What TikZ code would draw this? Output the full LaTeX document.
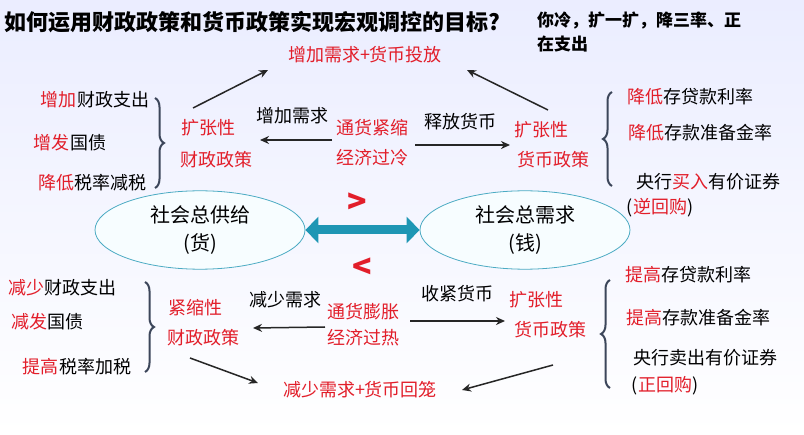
\documentclass[tikz,border=0pt]{standalone}
\usepackage{fontspec}
\setmainfont{Noto Sans CJK SC}
\usetikzlibrary{arrows.meta,decorations.pathreplacing,shapes.geometric}
\definecolor{rd}{RGB}{226,30,42}
\definecolor{br}{RGB}{60,70,90}
\definecolor{tl}{RGB}{30,150,180}
\tikzset{
 t/.style={font=\fontsize{18}{20}\selectfont, inner sep=0pt},
 r/.style={t, text=rd},
 arr/.style={-{Stealth[length=9pt,width=8pt]}, line width=1.5pt, black!85},
 brc/.style={decorate, decoration={brace, amplitude=9pt}, line width=2pt, br},
 ell/.style={draw=tl!80, ellipse, fill=white!70!cyan!10, line width=0.8pt, minimum width=210pt, minimum height=76pt, align=center, font=\fontsize{20}{28}\selectfont}
}
\begin{document}
\begin{tikzpicture}[x=1pt,y=-1pt]
\shade[top color=cyan!12!blue!8, bottom color=white] (0,0) rectangle (804,435);
\useasboundingbox (0,0) rectangle (804,435);
\node[anchor=west, inner sep=0pt, font=\bfseries\fontsize{22}{24}\selectfont] (title) at (4,22) {如何运用财政政策和货币政策实现宏观调控的目标?};
\node[anchor=north west, inner sep=0pt, align=left, font=\bfseries\fontsize{17}{24}\selectfont] (note) at (537,12) {你冷，扩一扩，降三率、正\\在支出};
\node[r] (top) at (365,55) {增加需求+货币投放};
% upper left
\node[t] (a1) at (95,100) {\textcolor{rd}{增加}财政支出};
\node[t] (a2) at (70,143) {\textcolor{rd}{增发}国债};
\node[t] (a3) at (92,183) {\textcolor{rd}{降低}税率减税};
\draw[brc] (155,98) -- (155,188);
\node[r] (fp1) at (208,128) {扩张性};
\node[r] (fp2) at (216,160) {财政政策};
\node[t] (zj) at (292,116) {增加需求};
\node[r] (tj1) at (372,128) {通货紧缩};
\node[r] (tj2) at (372,158) {经济过冷};
\node[t] (sf) at (460,122) {释放货币};
\node[r] (mp1) at (541,130) {扩张性};
\node[r] (mp2) at (553,160) {货币政策};
\draw[brc] (612,186) -- (612,92);
\node[t] (b1) at (690,97) {\textcolor{rd}{降低}存贷款利率};
\node[t] (b2) at (700,133) {\textcolor{rd}{降低}存款准备金率};
\node[t] (b3) at (708,182) {央行\textcolor{rd}{买入}有价证券};
\node[t] (b4) at (660,208) {(\textcolor{rd}{逆回购})};
\coordinate (c1) at (332,140); \coordinate (c2) at (260,140);
\draw[arr] (c1) -- (c2);
\coordinate (c3) at (415,145); \coordinate (c4) at (510,145);
\draw[arr] (c3) -- (c4);
\coordinate (c5) at (193,108); \coordinate (c6) at (268,70);
\draw[arr] (c5) -- (c6);
\coordinate (c7) at (548,110); \coordinate (c8) at (467,70);
\draw[arr] (c7) -- (c8);
% middle
\node[ell] (sup) at (200,230) {社会总供给\\(货)};
\node[ell] (dem) at (525,230) {社会总需求\\(钱)};
\draw[{Triangle[length=13pt,width=26pt]}-{Triangle[length=13pt,width=26pt]}, line width=9pt, tl] (sup.east) -- (dem.west);
\node[text=rd, font=\bfseries\fontsize{32}{32}\selectfont] (gt) at (357,203) {>};
\node[text=rd, font=\bfseries\fontsize{32}{32}\selectfont] (lt) at (362,268) {<};
% lower left
\node[t] (d1) at (63,288) {\textcolor{rd}{减少}财政支出};
\node[t] (d2) at (47,322) {\textcolor{rd}{减发}国债};
\node[t] (d3) at (77,367) {\textcolor{rd}{提高}税率加税};
\draw[brc] (145,282) -- (145,372);
\node[r] (cf1) at (195,308) {紧缩性};
\node[r] (cf2) at (203,338) {财政政策};
\node[t] (js) at (285,300) {减少需求};
\node[r] (tp1) at (363,312) {通货膨胀};
\node[r] (tp2) at (363,338) {经济过热};
\node[t] (sj) at (457,294) {收紧货币};
\node[r] (cm1) at (536,300) {扩张性};
\node[r] (cm2) at (550,330) {货币政策};
\draw[brc] (610,388) -- (610,280);
\node[t] (e1) at (688,275) {\textcolor{rd}{提高}存贷款利率};
\node[t] (e2) at (698,318) {\textcolor{rd}{提高}存款准备金率};
\node[t] (e3) at (705,358) {央行卖出有价证券};
\node[t] (e4) at (665,386) {(\textcolor{rd}{正回购})};
\node[r] (bot) at (360,390) {减少需求+货币回笼};
\coordinate (f1) at (325,327); \coordinate (f2) at (253,328);
\draw[arr] (f1) -- (f2);
\coordinate (f3) at (410,321); \coordinate (f4) at (505,321);
\draw[arr] (f3) -- (f4);
\coordinate (f5) at (190,358); \coordinate (f6) at (258,383);
\draw[arr] (f5) -- (f6);
\coordinate (f7) at (553,365); \coordinate (f8) at (462,390);
\draw[arr] (f7) -- (f8);
\end{tikzpicture}
\end{document}
